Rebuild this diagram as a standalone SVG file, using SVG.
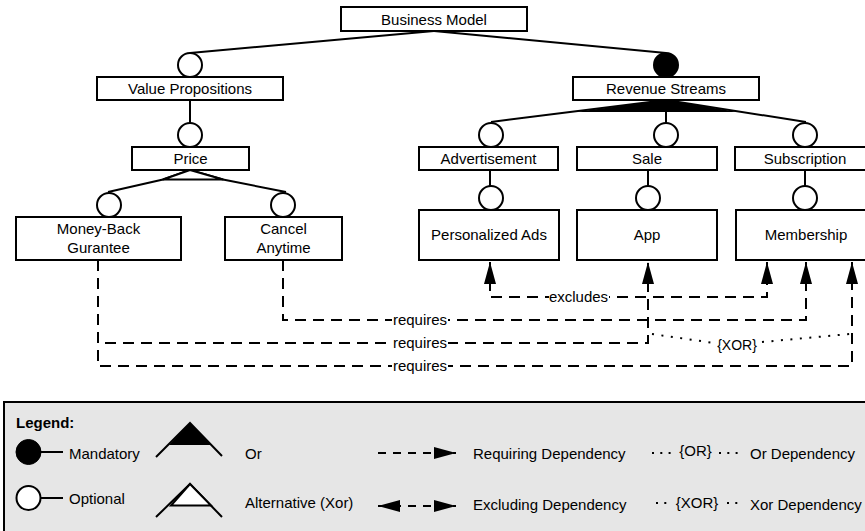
<svg xmlns="http://www.w3.org/2000/svg" width="865" height="531" viewBox="0 0 865 531">
<defs>
<style>
text{font-family:"Liberation Sans",Arial,sans-serif;font-size:15px;fill:#000}
.mid{text-anchor:middle}
.box{fill:#fff;stroke:#000;stroke-width:2}
.opt{fill:#fff;stroke:#000;stroke-width:2}
.man{fill:#000;stroke:#000;stroke-width:2}
.ln{fill:none;stroke:#000;stroke-width:2}
.dash{fill:none;stroke:#000;stroke-width:2;stroke-dasharray:11 7}
.ldash{fill:none;stroke:#000;stroke-width:2;stroke-dasharray:8 7}
.dot{fill:none;stroke:#000;stroke-width:2;stroke-dasharray:2 7.5}
.ldot{fill:none;stroke:#000;stroke-width:2;stroke-dasharray:2 6.3}
.bg{fill:#fff}
</style>
<marker id="ah" markerUnits="userSpaceOnUse" markerWidth="22" markerHeight="12" refX="22" refY="6" orient="auto-start-reverse" viewBox="0 0 22 12"><path d="M0,0 L22,6 L0,12 z" fill="#000"/></marker>
</defs>
<rect x="0" y="0" width="865" height="531" fill="#fff"/>

<g id="connectors">
  <path class="ln" d="M434,31 L190,53"/>
  <path class="ln" d="M434,31 L666,53"/>
  <path class="ln" d="M190,100 L190,123"/>
  <path class="ln" d="M190,170 L163,179.5 L108,192"/>
  <path class="ln" d="M190,170 L223,179.5 L286,192"/>
  <path d="M190,170 L163,179.5 L223,179.5 Z" fill="#fff" stroke="#000" stroke-width="2" stroke-linejoin="round"/>
  <path class="ln" d="M666,100 L491,122"/>
  <path class="ln" d="M666,100 L666,123"/>
  <path class="ln" d="M666,100 L806,122"/>
  <path d="M666,100 L575,112 L738,112 Z" fill="#000"/>
  <path class="ln" d="M490,170 L490,186"/>
  <path class="ln" d="M648,170 L648,186"/>
  <path class="ln" d="M805,170 L805,186"/>

  <path class="dash" d="M490,262 L490,297 L767,297 L767,262" marker-start="url(#ah)" marker-end="url(#ah)"/>
  <path class="dash" d="M283,260 L283,320 L806,320 L806,262" marker-end="url(#ah)"/>
  <path class="dash" d="M98,260 L98,343 L648,343 L648,262" marker-end="url(#ah)"/>
  <path class="dash" d="M98,260 L98,366 L852,366 L852,262" marker-end="url(#ah)"/>
  <path class="dot" d="M652,334 L714,343"/>
  <path class="dot" d="M762,342 L850,334"/>

  <rect class="bg" x="549" y="290" width="60" height="15"/>
  <text class="mid" x="578.5" y="302">excludes</text>
  <rect class="bg" x="392" y="313" width="56" height="15"/>
  <text class="mid" x="420" y="325">requires</text>
  <rect class="bg" x="392" y="336" width="56" height="15"/>
  <text class="mid" x="420" y="348">requires</text>
  <rect class="bg" x="392" y="359" width="56" height="15"/>
  <text class="mid" x="420" y="371">requires</text>
  <text class="mid" x="737" y="349.5" style="font-size:14px">{XOR}</text>
</g>

<g id="business-model">
  <rect class="box" x="341" y="7" width="186" height="24"/>
  <text class="mid" x="434" y="24.5">Business Model</text>
</g>
<g id="value-propositions">
  <circle class="opt" cx="190" cy="65" r="12"/>
  <rect class="box" x="97" y="77" width="186" height="23"/>
  <text class="mid" x="190" y="94">Value Propositions</text>
</g>
<g id="revenue-streams">
  <circle class="man" cx="666" cy="65" r="12"/>
  <rect class="box" x="573" y="77" width="186" height="23"/>
  <text class="mid" x="666" y="94">Revenue Streams</text>
</g>
<g id="price">
  <circle class="opt" cx="190" cy="135" r="12"/>
  <rect class="box" x="132" y="147" width="117" height="23"/>
  <text class="mid" x="190.5" y="164">Price</text>
</g>
<g id="advertisement">
  <circle class="opt" cx="491" cy="135" r="12"/>
  <rect class="box" x="419" y="147" width="139" height="23"/>
  <text class="mid" x="488.5" y="164">Advertisement</text>
</g>
<g id="sale">
  <circle class="opt" cx="666" cy="135" r="12"/>
  <rect class="box" x="577" y="147" width="140" height="23"/>
  <text class="mid" x="647" y="164">Sale</text>
</g>
<g id="subscription">
  <circle class="opt" cx="805" cy="135" r="12"/>
  <rect class="box" x="735" y="147" width="140" height="23"/>
  <text class="mid" x="805" y="164">Subscription</text>
</g>
<g id="money-back-gurantee">
  <circle class="opt" cx="109" cy="205" r="12"/>
  <rect class="box" x="16" y="217" width="165" height="43"/>
  <text class="mid" x="98.5" y="234">Money-Back</text>
  <text class="mid" x="98.5" y="252.5">Gurantee</text>
</g>
<g id="cancel-anytime">
  <circle class="opt" cx="283" cy="205" r="12"/>
  <rect class="box" x="225" y="217" width="117" height="43"/>
  <text class="mid" x="283.5" y="234">Cancel</text>
  <text class="mid" x="283.5" y="252.5">Anytime</text>
</g>
<g id="personalized-ads">
  <circle class="opt" cx="491" cy="198" r="12"/>
  <rect class="box" x="419" y="210" width="140" height="50"/>
  <text class="mid" x="489" y="240">Personalized Ads</text>
</g>
<g id="app">
  <circle class="opt" cx="648" cy="198" r="12"/>
  <rect class="box" x="577" y="210" width="140" height="50"/>
  <text class="mid" x="647" y="240">App</text>
</g>
<g id="membership">
  <circle class="opt" cx="805" cy="198" r="12"/>
  <rect class="box" x="736" y="210" width="140" height="50"/>
  <text class="mid" x="806" y="240">Membership</text>
</g>

<g id="legend">
  <rect x="4" y="402" width="872" height="140" fill="#e6e6e6" stroke="#000" stroke-width="2"/>
  <text x="16" y="428" style="font-weight:bold">Legend:</text>
  <line x1="40" y1="452" x2="63" y2="452" stroke="#000" stroke-width="2"/>
  <circle cx="28.5" cy="452" r="12.5" fill="#000" stroke="#000" stroke-width="1"/>
  <text x="69" y="459">Mandatory</text>
  <line x1="40" y1="498" x2="63" y2="498" stroke="#000" stroke-width="2"/>
  <circle cx="28.5" cy="498" r="12" fill="#fff" stroke="#000" stroke-width="2"/>
  <text x="69" y="504">Optional</text>
  <polyline class="ln" points="156,457 190,423 222,456"/>
  <polygon points="190,423 169,445 212,445" fill="#000"/>
  <text x="245" y="459">Or</text>
  <polyline class="ln" points="156,517 190,484 222,517"/>
  <polygon points="190,484 171,505.5 211,505.5" fill="#fff" stroke="#000" stroke-width="2"/>
  <text x="245" y="508">Alternative (Xor)</text>
  <path class="ldash" d="M378,453 L456,453" marker-end="url(#ah)"/>
  <text x="473" y="459">Requiring Dependency</text>
  <path class="ldash" d="M378,506 L456,506" marker-start="url(#ah)" marker-end="url(#ah)"/>
  <text x="473" y="510">Excluding Dependency</text>
  <path class="ldot" d="M652,453 L672,453"/>
  <text class="mid" x="695.5" y="456">{OR}</text>
  <path class="ldot" d="M719,453 L739,453"/>
  <text x="750" y="459">Or Dependency</text>
  <path class="ldot" d="M656,503 L667,503"/>
  <text class="mid" x="697" y="507.5">{XOR}</text>
  <path class="ldot" d="M727,503 L738,503"/>
  <text x="750" y="510">Xor Dependency</text>
</g>
</svg>
